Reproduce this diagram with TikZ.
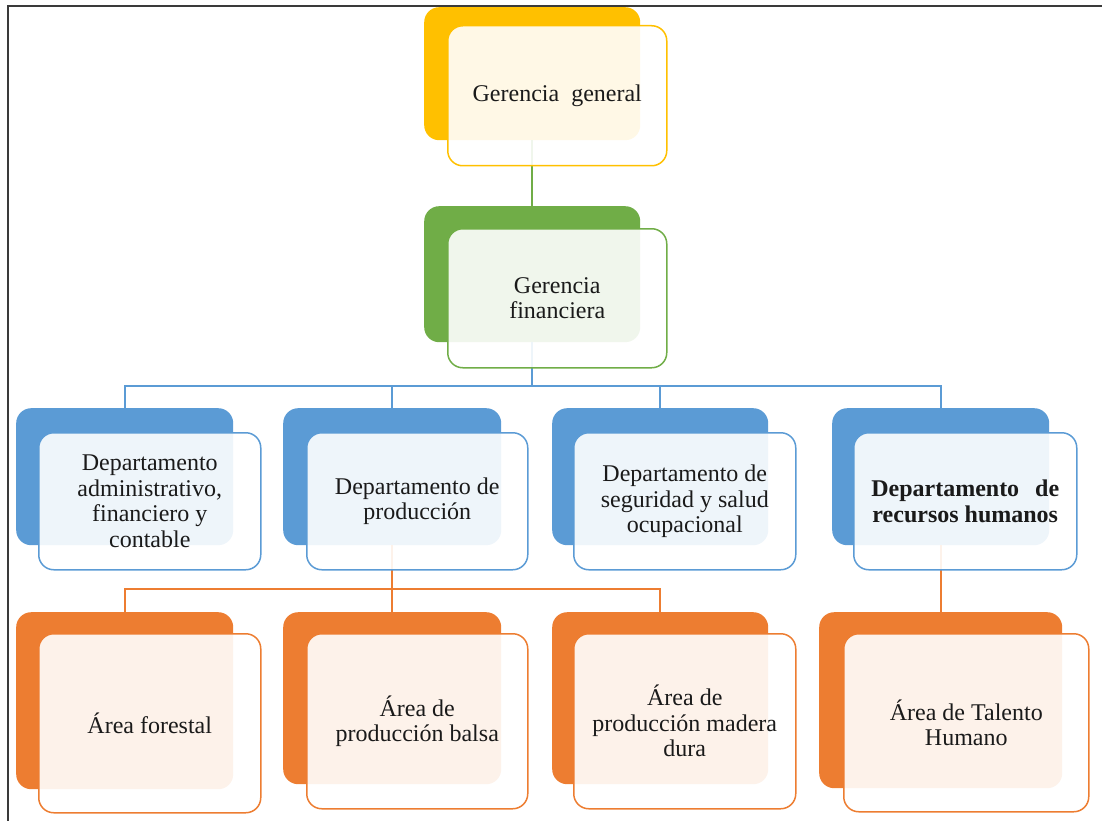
\documentclass[tikz,border=0pt]{standalone}
\usepackage{fontspec}
\setmainfont{Liberation Serif}
\definecolor{ogold}{HTML}{FFC000}
\definecolor{ogreen}{HTML}{70AD47}
\definecolor{oblue}{HTML}{5B9BD5}
\definecolor{oorange}{HTML}{ED7D31}
\definecolor{ink}{HTML}{1A1A1A}
\definecolor{framegray}{HTML}{3A3A3A}
\begin{document}
\begin{tikzpicture}[x=1pt,y=-1pt,
  backbox/.style={rectangle, rounded corners=15pt, fill=#1, draw=none,
    anchor=north west, inner sep=0pt},
  frontbox/.style={rectangle, rounded corners=15pt, fill=white, fill opacity=0.9,
    text opacity=1, draw=#1, line width=1.5pt, anchor=north west, align=center,
    font=\fontsize{24}{25.5}\selectfont, text=ink, inner sep=0pt},
  link/.style={draw=#1, line width=1.8pt},
]
\useasboundingbox (0,0) rectangle (1102,821);

% page frame (top and left rules)
\coordinate (frameTL) at (8,6);
\coordinate (frameTR) at (1102,6);
\coordinate (frameBL) at (8,821);
\draw[framegray, line width=1.6pt] (frameTR) -- (frameTL) -- (frameBL);

% coloured back plates
\node[backbox=ogold,   minimum width=216pt, minimum height=133pt] (gg) at (424,7)   {};
\node[backbox=ogreen,  minimum width=216pt, minimum height=136pt] (gf) at (424,206) {};
\node[backbox=oblue,   minimum width=217pt, minimum height=137pt] (d1) at (16,408)  {};
\node[backbox=oblue,   minimum width=218pt, minimum height=137pt] (d2) at (283,408) {};
\node[backbox=oblue,   minimum width=216pt, minimum height=137pt] (d3) at (552,408) {};
\node[backbox=oblue,   minimum width=217pt, minimum height=137pt] (d4) at (832,408) {};
\node[backbox=oorange, minimum width=217pt, minimum height=177pt] (a1) at (16,612)  {};
\node[backbox=oorange, minimum width=218pt, minimum height=172pt] (a2) at (283,612) {};
\node[backbox=oorange, minimum width=216pt, minimum height=172pt] (a3) at (552,612) {};
\node[backbox=oorange, minimum width=243pt, minimum height=176pt] (a4) at (819,612) {};

% connectors
\coordinate (busB) at (0,386);
\coordinate (busO) at (0,589);
\draw[link=ogreen] (gg.south) -- (gf.north);
\draw[link=oblue] (gf.south) -- (gf.south |- busB);
\draw[link=oblue] (d1.north) -- (d1.north |- busB) -- (d4.north |- busB) -- (d4.north);
\draw[link=oblue] (d2.north) -- (d2.north |- busB);
\draw[link=oblue] (d3.north) -- (d3.north |- busB);
\draw[link=oorange] (d2.south) -- (d2.south |- busO);
\draw[link=oorange] (a1.north) -- (a1.north |- busO) -- (a3.north |- busO) -- (a3.north);
\draw[link=oorange] (a2.north) -- (a2.north |- busO);
\draw[link=oorange] (d4.south) -- (a4.north);

% front cards with the labels
\node[frontbox=ogold,   minimum width=219pt, minimum height=140pt] (ggf) at (447,25)  {Gerencia\hspace{6pt} general};
\node[frontbox=ogreen,  minimum width=219pt, minimum height=139pt] (gff) at (447,228) {Gerencia\\financiera};
\node[frontbox=oblue,   minimum width=222pt, minimum height=137pt] (d1f) at (38,432)  {Departamento\\administrativo,\\financiero y\\contable};
\node[frontbox=oblue,   minimum width=221pt, minimum height=137pt] (d2f) at (306,432) {Departamento de\\producción};
\node[frontbox=oblue,   minimum width=222pt, minimum height=137pt] (d3f) at (573,432) {Departamento de\\seguridad y salud\\ocupacional};
\node[frontbox=oblue,   minimum width=223pt, minimum height=137pt] (d4f) at (853,432) {\textbf{Departamento\hspace{10pt} de}\\\textbf{recursos humanos}};
\node[frontbox=oorange, minimum width=222pt, minimum height=179pt] (a1f) at (38,633)  {Área forestal};
\node[frontbox=oorange, minimum width=221pt, minimum height=175pt] (a2f) at (306,633) {Área de\\producción balsa};
\node[frontbox=oorange, minimum width=222pt, minimum height=175pt] (a3f) at (573,633) {Área de\\producción madera\\dura};
\node[frontbox=oorange, minimum width=245pt, minimum height=178pt] (a4f) at (843,633) {Área de Talento\\Humano};
\end{tikzpicture}
\end{document}
